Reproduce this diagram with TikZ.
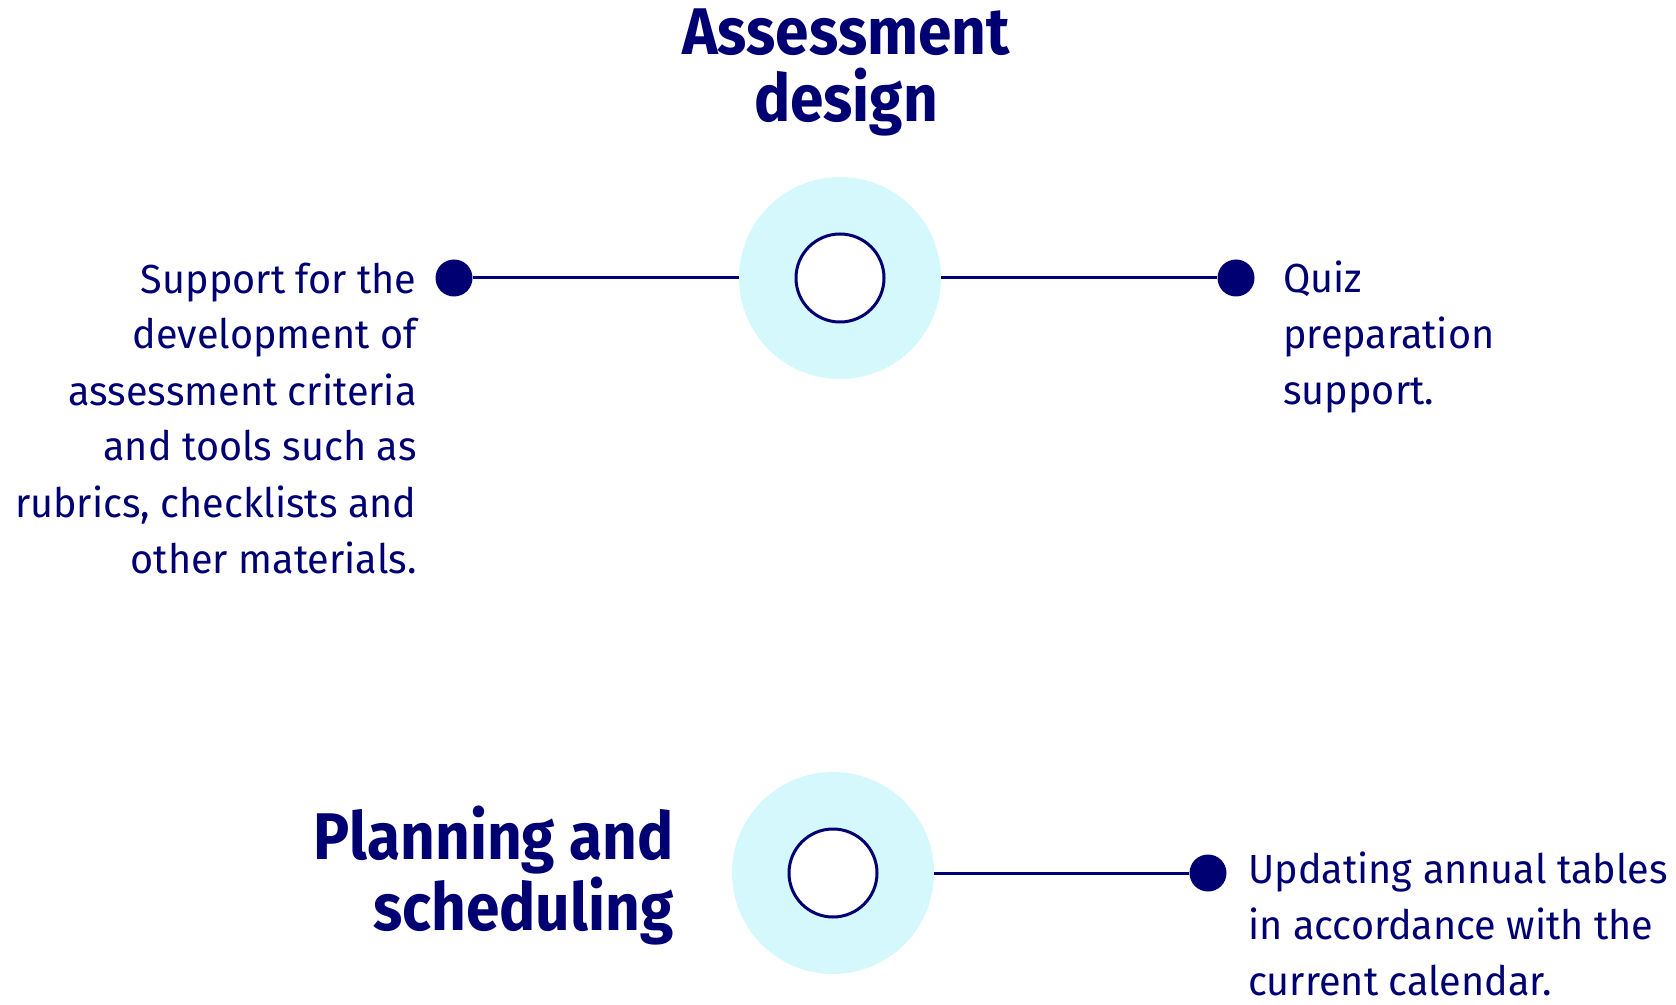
\documentclass[tikz,border=0pt]{standalone}
\usepackage{fontspec}
\setmainfont{Fira Sans}[FakeStretch=0.975]
\newfontfamily\headfont{Fira Sans}[FakeStretch=0.915]
\usepackage{tikz}

\definecolor{navy}{RGB}{0,0,115}
\definecolor{paleblue}{RGB}{213,248,253}

\tikzset{
  ring/.style={circle, fill=paleblue, minimum size=101pt, inner sep=0pt},
  hole/.style={circle, draw=navy, line width=1.5pt, fill=white, minimum size=44pt, inner sep=0pt},
  dot/.style={circle, fill=navy, minimum size=18.5pt, inner sep=0pt},
  link/.style={draw=navy, line width=1.5pt},
  heading/.style={text=navy, font=\headfont\fontsize{33}{33.5}\selectfont\bfseries, inner sep=0pt},
  body/.style={text=navy, font=\fontsize{20.3}{28}\selectfont, inner sep=0pt},
}

\begin{document}
\begin{tikzpicture}[x=0.5pt,y=-0.5pt]
\useasboundingbox (0,0) rectangle (1676,1005);

% assessment design
                \node at (846,122) (toptitle) [heading, anchor=base, align=center] {Assessment\\design};
                \node at (840,278) (topring) [ring] {};
                \node at (840,278) (tophole) [hole] {};
                \node at (454,278) (leftdot) [dot] {};
                \node at (1236,278) (rightdot) [dot] {};
                \draw [link] (leftdot) -- (topring);
                \draw [link] (topring) -- (rightdot);
                %
                \node at (417,573) (lefttext) [body, anchor=base east, align=right] {Support for the\\development of\\assessment criteria\\and tools such as\\rubrics, checklists and\\other materials.};
                \node at (1283,405) (righttext) [body, anchor=base west, align=left] {Quiz\\preparation\\support.};
                %
% planning and scheduling
                \node at (674,930) (bottitle) [heading, anchor=base east, align=right] {Planning and\\scheduling};
                \node at (833,873) (botring) [ring] {};
                \node at (833,873) (bothole) [hole] {};
                \node at (1208,873) (botdot) [dot] {};
                \draw [link] (botring) -- (botdot);
                %
                \node at (1248,995) (bottext) [body, anchor=base west, align=left] {Updating annual tables\\in accordance with the\\current calendar.};
\end{tikzpicture}
\end{document}
